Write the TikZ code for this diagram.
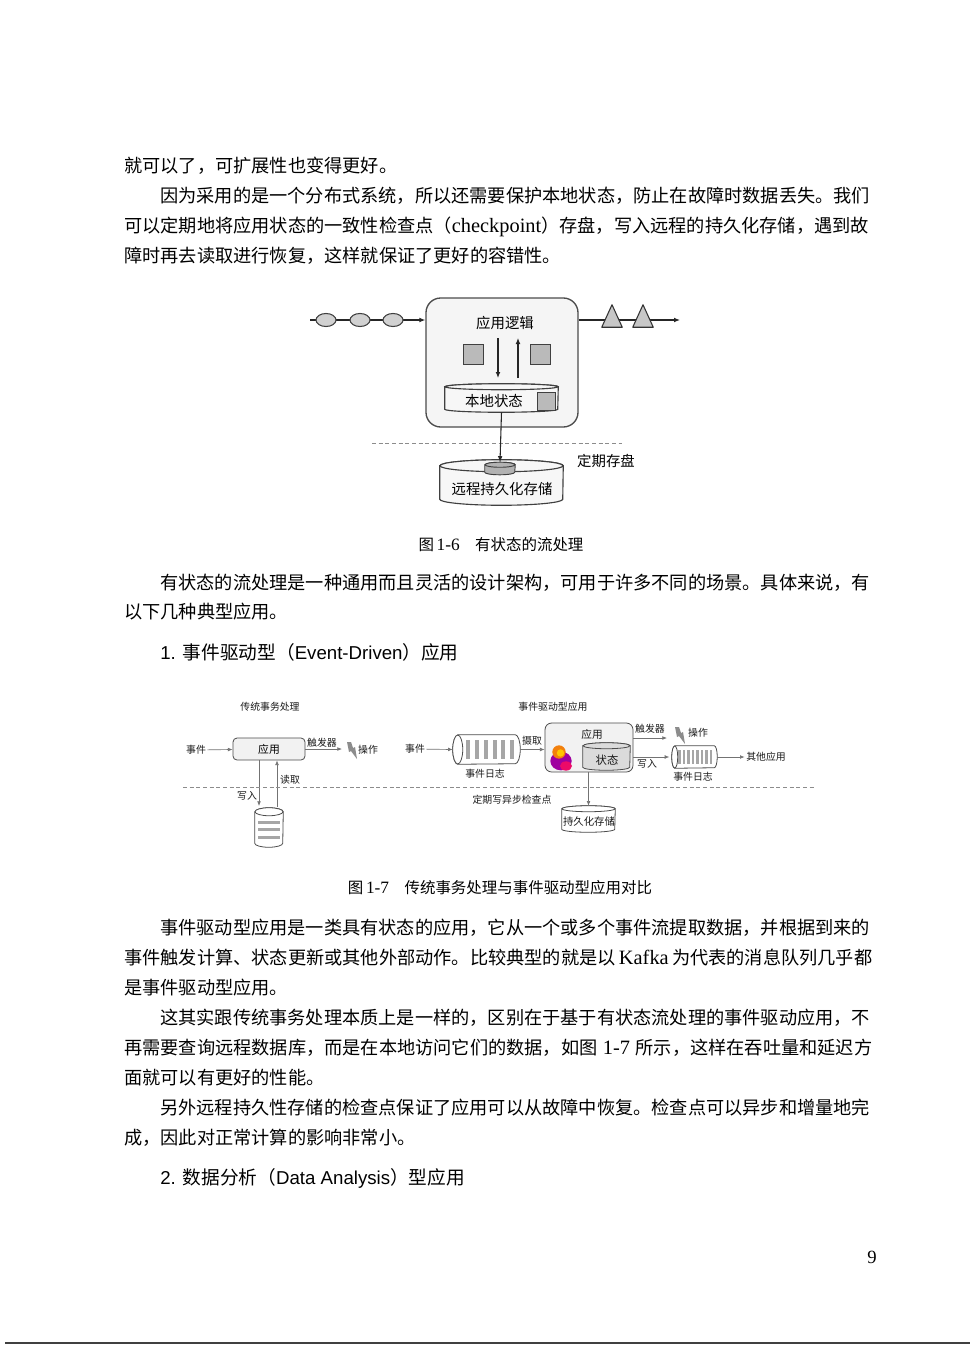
\documentclass[tikz,border=0pt]{standalone}
\usepackage{fontspec}
\usetikzlibrary{arrows.meta,calc,shapes.geometric}
\newfontfamily\cjk{Noto Sans CJK SC}
\newfontfamily\tms[Scale=1.12]{Liberation Serif}
\newfontfamily\ars{Liberation Sans}
\XeTeXinterchartokenstate=1
\newcommand\cjkglue{\hskip 0pt plus 1fil minus 0.03em\relax}
\XeTeXinterchartoks 1 1 = {\cjkglue}
\XeTeXinterchartoks 1 2 = {\cjkglue}
\XeTeXinterchartoks 1 3 = {\cjkglue}
\XeTeXinterchartoks 2 1 = {\cjkglue}
\XeTeXinterchartoks 2 2 = {\cjkglue}
\XeTeXinterchartoks 3 1 = {\cjkglue}
\XeTeXinterchartoks 3 2 = {\cjkglue}
\XeTeXinterchartoks 3 3 = {\cjkglue}
\newcommand\fullline[1]{\makebox[561pt][s]{#1}}
\newcommand\indline[1]{\makebox[534pt][s]{#1}}
% vertical cylinder: name, pos, width, side height, ry, style
\newcommand\vcyl[6]{%
  \node[inner sep=0pt,minimum width=#3,minimum height=#4] (#1) at (#2) {};
  \path[#6] (#1.north west) -- (#1.south west)
     arc[start angle=180,end angle=360,x radius=#3/2,y radius=#5] -- (#1.north east)
     arc[start angle=0,end angle=180,x radius=#3/2,y radius=#5] -- cycle;
  \path[#6] (#1.north) ellipse[x radius=#3/2,y radius=#5];
}
% horizontal cylinder: name, pos, width, height, rx, style
\newcommand\hcyl[6]{%
  \node[inner sep=0pt,minimum width=#3,minimum height=#4] (#1) at (#2) {};
  \path[#6] (#1.north west) -- (#1.north east)
     arc[start angle=90,end angle=-90,x radius=#5,y radius=#4/2] -- (#1.south west)
     arc[start angle=270,end angle=90,x radius=#5,y radius=#4/2] -- cycle;
  \path[#6] (#1.west) ellipse[x radius=#5,y radius=#4/2];
}
\tikzset{
  txt/.style={anchor=west,inner sep=0pt,font=\cjk\fontsize{13.65pt}{16pt}\selectfont,text height=11pt,text depth=1pt},
  headtxt/.style={anchor=west,inner sep=0pt,font=\cjk\fontsize{14pt}{16pt}\selectfont,text height=11pt,text depth=1pt},
  captxt/.style={inner sep=0pt,font=\cjk\fontsize{11.6pt}{14pt}\selectfont,text height=9pt,text depth=1pt},
  pgnum/.style={inner sep=0pt,font=\tms\fontsize{12.5pt}{14pt}\selectfont},
  lab6/.style={inner sep=0pt,font=\cjk\fontsize{10.8pt}{12pt}\selectfont,text=black},
  lab7/.style={inner sep=1pt,font=\cjk\fontsize{7.4pt}{9pt}\selectfont,text=black!90},
  arr6/.style={draw=black!85,line width=0.8pt,-{Latex[length=4.5pt,width=3.6pt]}},
  arr7/.style={draw=black!55,line width=0.5pt,-{Latex[length=3.5pt,width=2.8pt]}},
  evt/.style={ellipse,draw=black!75,fill=black!18,line width=0.8pt,minimum width=15pt,minimum height=9.75pt,inner sep=0pt},
  tribox/.style={inner sep=0pt,minimum width=15pt,minimum height=16.5pt},
  trishape/.style={draw=black!80,fill=black!22,line width=0.8pt,line join=round},
  sqbox/.style={draw=black!75,fill=black!27,line width=0.8pt,minimum width=15.5pt,minimum height=14.5pt,inner sep=0pt},
  cyl6/.style={draw=black!75,fill=black!3,line width=0.85pt},
  cylsm/.style={draw=black!75,fill=black!30,line width=0.7pt},
  cyl7/.style={draw=black!70,fill=white,line width=0.6pt},
  cylst/.style={draw=black!70,fill=black!14,line width=0.6pt},
  box7/.style={draw=black!70,fill=black!5,rounded corners=3pt,line width=0.6pt,inner sep=0pt},
  barfill/.style={fill=black!35},
  dash6/.style={draw=black!45,dash pattern=on 3pt off 2pt,line width=0.5pt},
  boltfill/.style={fill=black!45},
}
\begin{document}
\begin{tikzpicture}[x=0.75pt,y=-0.75pt]
\useasboundingbox (0,0) rectangle (975,1352);
\fill[white] (0,0) rectangle (975,1352);

% ---------------- body text (top) ----------------
\node[txt] (p1) at (124,166) {就可以了，可扩展性也变得更好。};
\node[txt] (p2) at (160,196) {\indline{因为采用的是一个分布式系统，所以还需要保护本地状态，防止在故障时数据丢失。我们}};
\node[txt] (p3) at (124,226) {\fullline{可以定期地将应用状态的一致性检查点（{\tms checkpoint}）存盘，写入远程的持久化存储，遇到故}};
\node[txt] (p4) at (124,256) {障时再去读取进行恢复，这样就保证了更好的容错性。};

% ---------------- figure 1-6 ----------------
\node[draw=black!70,fill=black!4,line width=1pt,rounded corners=11pt,minimum width=114pt,minimum height=96.75pt,inner sep=0pt] (app) at (502,362.5) {};
\coordinate (src) at (310,320);
\draw[arr6] (src) -- (src -| app.west);
\node[evt] (e1) at (326,320) {};
\node[evt] (e2) at (360,320) {};
\node[evt] (e3) at (393,320) {};
\coordinate (snk) at (680,320);
\draw[arr6] (app.east |- src) -- (snk);
\node[tribox] (t1) at (612,316) {};
\node[tribox] (t2) at (643,316) {};
\draw[trishape] (t1.south west) -- (t1.north) -- (t1.south east) -- cycle;
\draw[trishape] (t2.south west) -- (t2.north) -- (t2.south east) -- cycle;
\node[lab6] (logic) at (505,323) {应用逻辑};
\node[sqbox] (q1) at (473.5,354.5) {};
\node[sqbox] (q2) at (540.5,354.5) {};
\coordinate (d1) at (498,338);
\coordinate (d2) at (498,378);
\coordinate (u1) at (518,378);
\coordinate (u2) at (518,338);
\draw[arr6] (d1) -- (d2);
\draw[arr6] (u1) -- (u2);
\vcyl{ls}{501.5,398}{84.75pt}{16.5pt}{2.25pt}{cyl6}
\node[lab6] (lsl) at (494,401) {本地状态};
\node[sqbox,minimum width=14pt,minimum height=14pt] (lsq) at (546.5,401.5) {};
\draw[dash6] (372,443) -- (622,443);
\vcyl{rs}{501.5,482.5}{92.25pt}{24.75pt}{4.5pt}{cyl6}
\vcyl{sc}{500,468.5}{22.5pt}{5.25pt}{1.9pt}{cylsm}
\draw[arr6] ([yshift=-2.25pt]ls.south) -- ([yshift=1.9pt]sc.north);
\node[lab6] (rsl) at (502,489) {远程持久化存储};
\node[lab6] (ck) at (606,461) {定期存盘};

\node[captxt] (c1) at (501,545) {图\,{\tms 1-6}\hspace{1em}有状态的流处理};

% ---------------- body text (middle) ----------------
\node[txt] (p5) at (160,583) {\indline{有状态的流处理是一种通用而且灵活的设计架构，可用于许多不同的场景。具体来说，有}};
\node[txt] (p6) at (124,612) {以下几种典型应用。};
\node[headtxt] (hd1) at (160,653) {{\ars 1. }事件驱动型（{\ars Event-Driven}）应用};

% ---------------- figure 1-7 ----------------
\node[lab7] (h1) at (270,707) {传统事务处理};
\node[lab7] (ev1) at (196,750) {事件};
\node[box7,minimum width=54pt,minimum height=16.5pt,font=\cjk\fontsize{8.1pt}{10pt}\selectfont] (b1) at (269,749) {应用};
\draw[arr7] (ev1) -- (b1);
\coordinate (tg1) at (342,749);
\draw[arr7] (b1) -- (tg1);
\node[lab7] (tr1) at (322,743) {触发器};
\begin{scope}[shift={(352,750)}]
  \fill[boltfill] (-5,-8) -- (-1,-8) -- (1,-2) -- (3,-3) -- (5,9) -- (-1,1) -- (-3,2) -- cycle;
\end{scope}
\node[lab7] (op1) at (368,750) {操作};
\vcyl{db}{269,827.5}{21pt}{23.25pt}{3pt}{cyl7}
\fill[barfill] (258,820.5) rectangle (280,823.5);
\fill[barfill] (258,828) rectangle (280,831);
\fill[barfill] (258,836) rectangle (280,839);
\coordinate (w1) at (259,806);
\coordinate (r1) at (277,807);
\draw[arr7] (w1 |- b1.south) -- (w1);
\draw[arr7] (r1) -- (r1 |- b1.south);
\node[lab7] (wl1) at (247,796) {写入};
\node[lab7] (rl1) at (290,780) {读取};
\draw[dash6] (183,787) -- (815,787);

\node[lab7] (h2) at (553,707) {事件驱动型应用};
\node[lab7] (ev2) at (415,749) {事件};
\hcyl{log1}{486.5,749.5}{42.75pt}{21.75pt}{3.75pt}{cyl7}
\foreach \bx in {468,477,486,494.5,503,511.5} \fill[barfill] (\bx-2,740) rectangle (\bx+2,759);
\draw[arr7] (ev2) -- ([xshift=-3.75pt]log1.west);
\node[lab7] (ll1) at (485,774) {事件日志};
\node[box7,rounded corners=5pt,minimum width=66pt,minimum height=36.75pt] (app2) at (589,747.5) {};
\draw[arr7] ([xshift=3.75pt]log1.east) -- (app2.west |- log1);
\node[lab7] (in1) at (532,741) {摄取};
\node[inner sep=0pt,font=\cjk\fontsize{8pt}{10pt}\selectfont,text=black!90] (al2) at (592,734) {应用};
\begin{scope}[shift={(561,758)}]
  \fill[violet!75!magenta] (0,3) ellipse[x radius=8pt,y radius=7pt];
  \fill[magenta!65!red] (5,8) ellipse[x radius=4.5pt,y radius=3.5pt];
  \fill[orange!80!brown] (-2,-6) circle[radius=5pt];
  \fill[orange!45!yellow] (-0.5,-5) circle[radius=2.8pt];
\end{scope}
\vcyl{st}{606.5,756.5}{35.25pt}{15.75pt}{2.25pt}{cylst}
\node[inner sep=0pt,font=\cjk\fontsize{8.5pt}{10pt}\selectfont,text=black!90] (stl) at (607,760) {状态};
\coordinate (tg2) at (667,738);
\draw[arr7] (app2.east |- tg2) -- (tg2);
\node[lab7] (tr2) at (650,729) {触发器};
\begin{scope}[shift={(680,735)}]
  \fill[boltfill] (-5,-8) -- (-1,-8) -- (1,-2) -- (3,-3) -- (5,9) -- (-1,1) -- (-3,2) -- cycle;
\end{scope}
\node[lab7] (op2) at (698,733) {操作};
\hcyl{log2}{694.5,757}{29.25pt}{16.5pt}{2.25pt}{cyl7}
\foreach \bx in {679.5,684,688.5,693,697.5,702,706.5,711} \fill[barfill] (\bx-1.2,750) rectangle (\bx+1.2,764);
\draw[arr7] (app2.east |- log2) -- ([xshift=-4pt]log2.west);
\node[lab7] (wl2) at (647,764) {写入};
\node[lab7] (ll2) at (693,777) {事件日志};
\node[lab7] (oth) at (766,757) {其他应用};
\draw[arr7] ([xshift=2.25pt]log2.east) -- (oth.west);
\vcyl{ps}{588.5,819}{39.75pt}{15pt}{2.25pt}{cyl7}
\node[inner sep=0pt,font=\cjk\fontsize{7.8pt}{10pt}\selectfont,text=black!90] (psl) at (589,822) {持久化存储};
\draw[arr7] (app2.south -| ps) -- ([yshift=2.25pt]ps.north);
\node[lab7] (ckp) at (512,800) {定期写异步检查点};

\node[captxt] (c2) at (500,888) {图\,{\tms 1-7}\hspace{1em}传统事务处理与事件驱动型应用对比};

% ---------------- body text (bottom) ----------------
\node[txt] (p7) at (160,928) {\indline{事件驱动型应用是一类具有状态的应用，它从一个或多个事件流提取数据，并根据到来的}};
\node[txt] (p8) at (124,958) {\fullline{事件触发计算、状态更新或其他外部动作。比较典型的就是以 {\tms Kafka} 为代表的消息队列几乎都}};
\node[txt] (p9) at (124,988) {是事件驱动型应用。};
\node[txt] (p10) at (160,1018) {\indline{这其实跟传统事务处理本质上是一样的，区别在于基于有状态流处理的事件驱动应用，不}};
\node[txt] (p11) at (124,1048) {\fullline{再需要查询远程数据库，而是在本地访问它们的数据，如图 {\tms 1-7} 所示，这样在吞吐量和延迟方}};
\node[txt] (p12) at (124,1078) {面就可以有更好的性能。};
\node[txt] (p13) at (160,1108) {\indline{另外远程持久性存储的检查点保证了应用可以从故障中恢复。检查点可以异步和增量地完}};
\node[txt] (p14) at (124,1138) {成，因此对正常计算的影响非常小。};
\node[headtxt] (hd2) at (160,1178) {{\ars 2. }数据分析（{\ars Data Analysis}）型应用};

\node[pgnum] (pg) at (872,1257) {9};
\draw[black!75,line width=1.2pt] (5,1343) -- (970,1343);
\end{tikzpicture}
\end{document}
